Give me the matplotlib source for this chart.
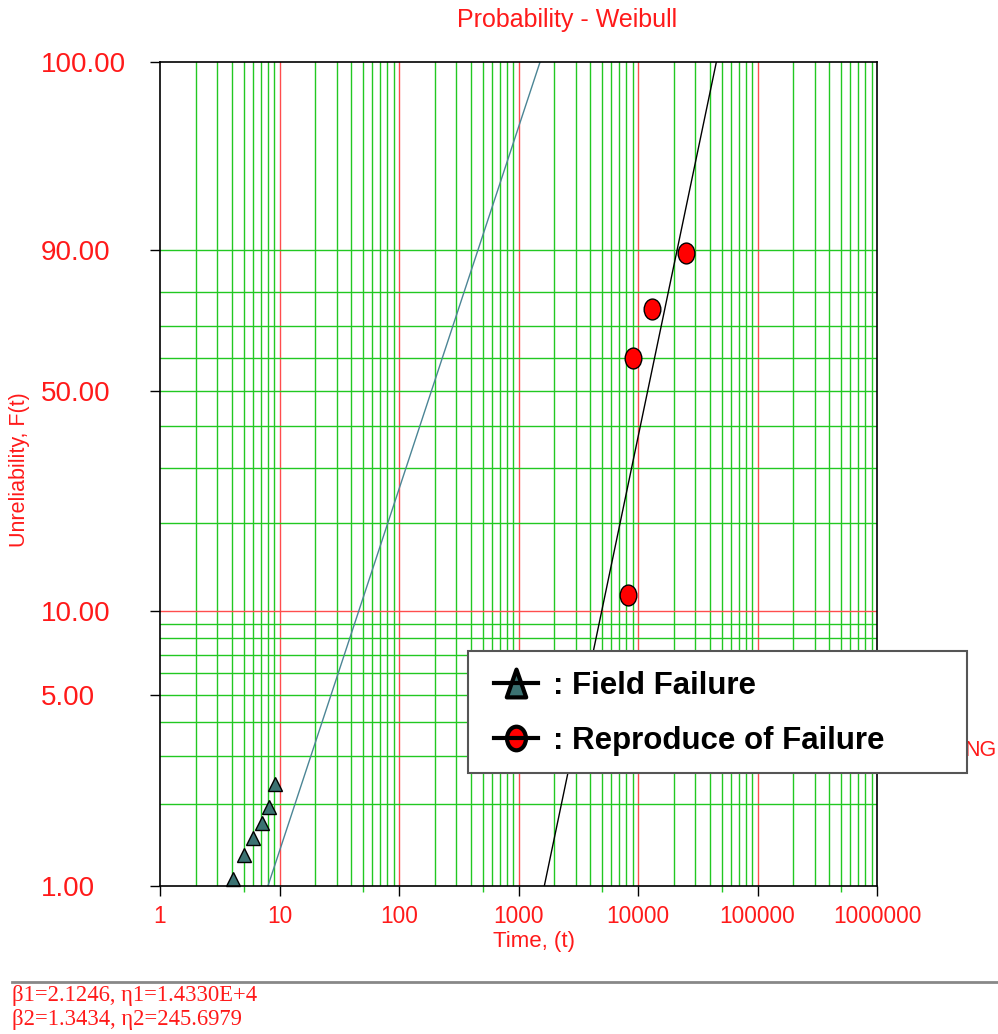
import numpy as np
import matplotlib
matplotlib.use('Agg')
import matplotlib.pyplot as plt
from matplotlib.lines import Line2D
from matplotlib.patches import Rectangle
from matplotlib.path import Path
from matplotlib.transforms import Affine2D
from matplotlib.legend_handler import HandlerTuple

plt.rcParams['font.family'] = ['Liberation Sans', 'DejaVu Sans']

# Weibull fit parameters (shown at the bottom of the chart)
beta1, eta1 = 2.1246, 1.4330e4    # reproduce of failure
beta2, eta2 = 1.3434, 245.6979    # field failure

# data points
field_t = [4.05, 5.05, 6.05, 7.1, 8.1, 9.1]
field_F = [1.06, 1.30, 1.50, 1.71, 1.96, 2.37]
repro_t = [8260, 9130, 13150, 25060]
repro_F = [11.4, 59.9, 75.1, 89.5]

x_ticks = [1, 10, 100, 1000, 10000, 100000, 1000000]
x_labels = ['1', '10', '100', '1000', '10000', '100000', '1000000']
y_ticks = [1, 5, 10, 50, 90, 99.999]
y_labels = ['1.00', '5.00', '10.00', '50.00', '90.00', '100.00']
y_grid = [2, 3, 4, 5, 6, 7, 8, 9, 10, 20, 30, 40, 50, 60, 70, 80, 90]

RED = '#ff1a1a'
GRID_G = '#22c822'
GRID_R = '#ff4d4d'
TEAL = '#3b7272'
TEAL_LINE = '#4b8595'


def weib_fwd(F):
    p = np.clip(np.asarray(F, dtype=float) / 100.0, 1e-12, 1 - 1e-12)
    return np.log(-np.log(1 - p))


def weib_inv(y):
    return 100.0 * (1 - np.exp(-np.exp(np.asarray(y, dtype=float))))


def fit_line(beta, eta):
    F = np.array([1.0, 99.999])
    t = eta * (-np.log(1 - F / 100.0)) ** (1.0 / beta)
    return t, F


W, H = 998, 1034
fig = plt.figure(figsize=(W / 100, H / 100), dpi=100)
ax = fig.add_axes([160 / W, 1 - 886 / H, 717 / W, 824 / H])
ax.set_xscale('log')
ax.set_yscale('function', functions=(weib_fwd, weib_inv))
ax.set_xlim(1, 1e6)
ax.set_ylim(1, 99.999)

# grid
for k in range(6):
    for m in range(2, 10):
        ax.axvline(m * 10 ** k, color=GRID_G, lw=1, zorder=1)
for k in range(1, 6):
    ax.axvline(10 ** k, color=GRID_R, lw=1, zorder=1)
for v in y_grid:
    ax.axhline(v, color=GRID_R if v == 10 else GRID_G, lw=1, zorder=1)

# fitted lines
t1, F1 = fit_line(beta1, eta1)
t2, F2 = fit_line(beta2, eta2)
ax.plot(t1, F1, color='black', lw=1, zorder=3)
ax.plot(t2, F2, color=TEAL_LINE, lw=1, zorder=3)

ell = Path.unit_circle().transformed(Affine2D().scale(0.8, 1.0))
ax.plot(field_t, field_F, ls='none', marker='^', ms=9.5, mfc=TEAL, mec='black',
        mew=1, zorder=4, clip_on=False)
ax.plot(repro_t, repro_F, ls='none', marker=ell, ms=15, mfc='red', mec='black',
        mew=1, zorder=4)

# ticks
ax.set_xticks(x_ticks)
ax.set_xticklabels(x_labels)
ax.set_xticks([5 * 10 ** k for k in range(6)], minor=True)
ax.set_yticks(y_ticks)
ax.set_yticklabels(y_labels)
ax.yaxis.set_minor_locator(plt.NullLocator())
ax.tick_params(axis='x', which='major', length=7.2, width=1, labelsize=16.3,
               labelcolor=RED, pad=6.5)
ax.tick_params(axis='x', which='minor', length=4.3, width=1, color=GRID_G)
ax.tick_params(axis='y', which='major', length=7.2, width=1, labelsize=20,
               labelcolor=RED, pad=78.5)
for tick, v in zip(ax.xaxis.get_major_ticks(), x_ticks):
    tick.tick1line.set_color('black' if v in (1, 1000000) else GRID_R)
for tick, v in zip(ax.yaxis.get_major_ticks(), y_ticks):
    if v in (1, 99.999):
        c = 'black'
    elif v == 10:
        c = GRID_R
    else:
        c = GRID_G
    tick.tick1line.set_color(c)
for lab in ax.get_yticklabels():
    lab.set_horizontalalignment('left')

for s in ax.spines.values():
    s.set_color('black')
    s.set_linewidth(1.2)
    s.set_zorder(5)

# titles
fig.text(567 / W, 1 - 20 / H, 'Probability - Weibull', ha='center', va='center',
         color=RED, fontsize=18)
fig.text(534 / W, 1 - 941 / H, 'Time, (t)', ha='center', va='center',
         color=RED, fontsize=16)
fig.text(20 / W, 1 - 470 / H, 'Unreliability, F(t)', ha='center', va='center',
         rotation=90, color=RED, fontsize=15.5)
# partly hidden behind the legend box, as in the original
fig.text(997 / W, 1 - 750 / H, 'NG', ha='right', va='center', color=RED,
         fontsize=15.5, zorder=2)

# legend box
fig.add_artist(Rectangle((468 / W, 1 - 773 / H), 499 / W, 122 / H,
                         transform=fig.transFigure, facecolor='white',
                         edgecolor='#555555', lw=1.5, zorder=6))
tri = Path([(0, 1), (-0.7, -1), (0.7, -1), (0, 1)], closed=True)
h_field = (Line2D([], [], ls='none', marker=tri, ms=20, mfc=TEAL, mec='black', mew=3),
           Line2D([], [], color='black', lw=3))
h_repro = (Line2D([], [], ls='none', marker=ell, ms=17, mfc='red', mec='black', mew=3),
           Line2D([], [], color='black', lw=3))
leg = fig.legend([h_field, h_repro], [': Field Failure', ': Reproduce of Failure'],
                 handler_map={tuple: HandlerTuple(ndivide=1)},
                 loc='upper left', bbox_to_anchor=(494 / W, 1 - 671 / H),
                 frameon=False, borderpad=0, borderaxespad=0, handlelength=1.42,
                 handletextpad=0.48, labelspacing=0.8,
                 prop={'size': 22.5, 'weight': 'bold'})
leg.set_zorder(7)

# footer
fig.add_artist(Line2D([12 / W, 1], [1 - 982 / H, 1 - 982 / H], transform=fig.transFigure,
                      color='#888888', lw=2))
fig.text(12 / W, 1 - 996 / H, 'β1=2.1246, η1=1.4330E+4', ha='left', va='center',
         color=RED, fontsize=16.3, family='Liberation Serif')
fig.text(12 / W, 1 - 1020 / H, 'β2=1.3434, η2=245.6979', ha='left', va='center',
         color=RED, fontsize=16.3, family='Liberation Serif')

fig.savefig('out.png', dpi=100)
